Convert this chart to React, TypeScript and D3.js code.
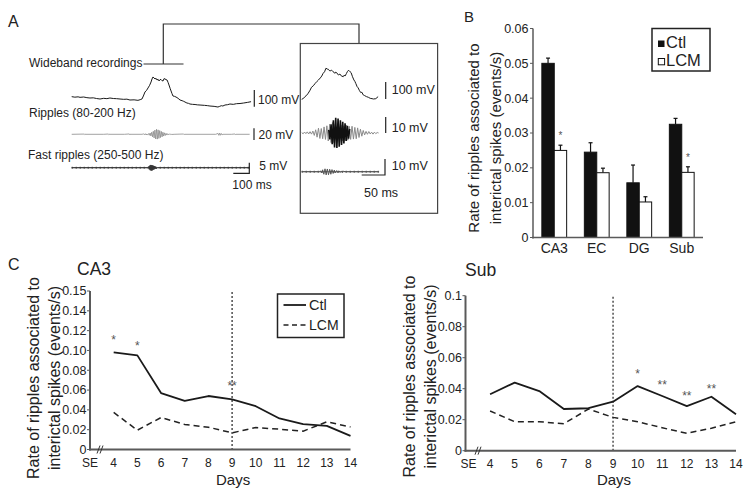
import React from "react";
import * as d3 from "d3";

const FONT = "'Liberation Sans', Arial, Helvetica, sans-serif";

// ---------- Panel B data ----------
const regions = ["CA3", "EC", "DG", "Sub"];
const barGroups = ["Ctl", "LCM"];
const ctlRate = [0.05, 0.0245, 0.0157, 0.0325];
const lcmRate = [0.025, 0.0186, 0.0102, 0.0187];
const ctlSem = [0.0015, 0.0027, 0.0051, 0.0017];
const lcmSem = [0.0015, 0.0013, 0.0015, 0.0016];
const barTicks = [0, 0.01, 0.02, 0.03, 0.04, 0.05, 0.06];
const barTickLabels = ["0", "0.01", "0.02", "0.03", "0.04", "0.05", "0.06"];
const barStars = [
  { region: "CA3", group: "LCM", value: 0.0299, label: "*" },
  { region: "Sub", group: "LCM", value: 0.0237, label: "*" },
];

// ---------- Panel C data ----------
const days = [4, 5, 6, 7, 8, 9, 10, 11, 12, 13, 14];
const dayTickPos = [3, 4, 5, 6, 7, 8, 9, 10, 11, 12, 13, 14];
const dayTickLabels = ["SE", "4", "5", "6", "7", "8", "9", "10", "11", "12", "13", "14"];
const ca3Ctl = [0.098, 0.095, 0.057, 0.049, 0.054, 0.0505, 0.0437, 0.0313, 0.0256, 0.0238, 0.0137];
const ca3Lcm = [0.0374, 0.0195, 0.0323, 0.0253, 0.0225, 0.0168, 0.0222, 0.0205, 0.0185, 0.0279, 0.0228];
const subCtl = [0.0364, 0.0439, 0.0385, 0.0269, 0.0274, 0.0316, 0.0417, 0.0353, 0.0288, 0.0348, 0.0235];
const subLcm = [0.0256, 0.0187, 0.0187, 0.0174, 0.0269, 0.0215, 0.0187, 0.0148, 0.0112, 0.0145, 0.0187];
const ca3Ticks = [0, 0.02, 0.04, 0.06, 0.08, 0.1, 0.12, 0.14, 0.16];
const ca3TickLabels = ["0", "0.02", "0.04", "0.06", "0.08", "0.10", "0.12", "0.14", "0.15"];
const subTicks = [0, 0.02, 0.04, 0.06, 0.08, 0.1];
const subTickLabels = ["0", "0.02", "0.04", "0.06", "0.08", "0.1"];
const ca3Stars = [
  { day: 4, value: 0.1136, label: "*" },
  { day: 5, value: 0.1075, label: "*" },
  { day: 9, value: 0.0671, label: "**" },
];
const subStars = [
  { day: 10, value: 0.0514, label: "*" },
  { day: 11, value: 0.0445, label: "**" },
  { day: 12, value: 0.037, label: "**" },
  { day: 13, value: 0.0417, label: "**" },
];
const markerDay = 9;

// ---------- Panel A data (ms, mV) ----------
const wideLong: [number, number][] = [
  [0, 2], [20, -1], [40, 1], [52, -2], [75, 0], [95, -4], [114, -6], [135, -5], [155, -9], [177, -12],
  [200, -8], [220, -10], [239, -6], [260, -9], [280, -10], [302, -12], [325, -14], [345, -13], [364, -18],
  [390, -17], [414, -20], [428, -16], [439, -12], [448, 6], [458, 30], [468, 40], [477, 54], [487, 70],
  [496, 90], [502, 108], [508, 120], [514, 114], [521, 108], [527, 112], [533, 102], [540, 106], [546, 96],
  [552, 104], [558, 105], [564, 98], [571, 96], [577, 110], [583, 108], [590, 104], [596, 102], [602, 88],
  [608, 72], [615, 52], [621, 36], [627, 20], [633, 6], [642, 4], [652, 0], [665, -8], [677, -18],
  [690, -22], [700, -26], [708, -30], [720, -36], [730, -38], [739, -42], [755, -44], [771, -45],
  [785, -47], [802, -48], [830, -50], [850, -52], [864, -54], [890, -56], [914, -60], [925, -56],
  [935, -52], [945, -54], [958, -48], [975, -46], [989, -42], [1010, -44], [1030, -40], [1052, -39],
  [1075, -36], [1100, -32], [1121, -28],
];
const rippleLongBase: [number, number][] = [
  [0, 0], [80, 0.4], [82, -0.4], [84, 0], [200, 0], [230, 0.5], [232, -0.5], [234, 0], [330, 0],
  [360, 0.6], [362, -0.6], [364, 0], [440, 0], [450, 0.8], [455, -0.8], [460, 1], [465, -1.2],
  [640, 0], [700, 0.5], [703, -0.5], [706, 0], [900, 0], [915, 1.5], [920, -1.8], [925, 2],
  [930, -1.6], [935, 1.4], [940, -1], [945, 0], [1000, 0], [1020, 0.6], [1023, -0.6], [1026, 0], [1112, 0],
];
const rippleLongBurst = [
  0.5, -0.8, 1.2, -1.6, 2.2, -2.8, 3.5, -4.3, 5.2, -6.2, 7.2, -8, 8.5, -8.2, 7.6, -7, 6.4, -5.6, 5,
  -4.3, 3.6, -3, 2.5, -2, 1.6, -1.3, 1, -0.8, 0.6, -0.5, 0.4, -0.3,
];
const fastLongBurst = [0.6, -0.8, 1, -1.2, 1.3, -1.4, 1.2, -1.3, 1.1, -1, 0.9, -0.8, 0.7, -0.6, 0.5, -0.4];
const wideBox: [number, number][] = [
  [0, -2], [4, 4], [7, 14], [10, 20], [14, 34], [18, 52], [21, 69], [25, 78], [29, 92], [33, 104],
  [36, 112], [40, 124], [43, 135], [46, 151], [49, 160], [52, 181], [55, 176], [57, 175], [59, 168],
  [61, 165], [64, 170], [67, 161], [69, 158], [71, 151], [73, 158], [75, 155], [77, 147], [79, 141],
  [82, 147], [84, 138], [86, 135], [89, 131], [91, 140], [93, 135], [96, 150], [98, 161], [100, 168],
  [102, 166], [104, 160], [106, 155], [109, 131], [112, 112], [114, 104], [116, 92], [119, 72],
  [121, 66], [124, 49], [127, 37], [129, 40], [132, 24], [135, 20], [139, 14], [143, 10], [147, 4],
  [151, 2], [154, 0], [159, 2], [164, 14],
];
const rippleBoxGray = [
  0.3, -0.5, 0.6, -0.4, 0.7, -0.6, 0.8, -0.7, 1.2,
  -1.5, 2, -2.6, 3, -3.4, 2.8, -3.6, 3.8, -4, 4.5,
  -5, 5.5, -6, 6.5, -6, 5.5, -6, 6, -5.5, 5, -5, 4.5, -4.8, 5, -4.5, 4.2,
  -4, 4.2, -3.8, 3.5, -3.6, 3.2, -2.8, 2.4, -2, 1.6, -1.2,
  1, -0.8, 0.9, -0.6, 0.5, -0.7, 0.5, -0.4, 0.3, 0,
];
const rippleBoxBlack = [2, -4, 5.5, -7, 8, -9, 9.5, -9.4, 9, -8.5, 8, -7.5, 7, -6.5, 6, -5, 4.5, -3.5, 2.5];
const fastBoxBurst = [
  0.5, -0.8, 1.2, -1.6, 1.8, -2, 1.7, -1.9, 1.5, -1.6, 1.3, -1.1, 1, -0.8, 0.7, -0.6, 0.5, -0.5, 0.4, -0.4, 0.3,
];

type Star = { day: number; value: number; label: string };

function LinePanel(props: {
  x0: number; x1: number; yBottom: number; yTop: number; yMax: number;
  ticks: number[]; tickLabels: string[]; ctl: number[]; lcm: number[]; stars: Star[];
  title: string; titleX: number; titleY: number; labelX1: number; labelX2: number; labelY: number;
  seOffset: number; breakX: number; daysY: number; tickLabelY: number; legend?: boolean;
}) {
  const p = props;
  const x = d3.scaleLinear().domain([3, 14]).range([p.x0, p.x1]);
  const y = d3.scaleLinear().domain([0, p.yMax]).range([p.yBottom, p.yTop]);
  const line = d3.line<number>().x((_, i) => x(days[i])).y((d) => y(d));
  const axisCol = "#5a5a5a";
  return (
    <g fontFamily={FONT}>
      <text x={p.titleX} y={p.titleY} fontSize={17.5} fill="#222">{p.title}</text>
      {/* y label */}
      <g transform={`translate(${p.labelX1},${p.labelY}) rotate(-90)`}>
        <text textAnchor="middle" fontSize={16} fill="#222">Rate of ripples associated to</text>
      </g>
      <g transform={`translate(${p.labelX2},${p.labelY}) rotate(-90)`}>
        <text textAnchor="middle" fontSize={16} fill="#222">interictal spikes (events/s)</text>
      </g>
      {/* y ticks */}
      {p.ticks.map((t, i) => (
        <g key={"yt" + i}>
          <line x1={p.x0 - 3} x2={p.x0} y1={y(t)} y2={y(t)} stroke={axisCol} strokeWidth={1} />
          <text x={p.x0 - 3.5} y={y(t)} dy="0.35em" textAnchor="end" fontSize={12.5} fill="#222">{p.tickLabels[i]}</text>
        </g>
      ))}
      {/* x tick labels */}
      {dayTickPos.map((d, i) => (
        <text key={"xt" + i} x={x(d) + (i === 0 ? p.seOffset : 0)} y={p.tickLabelY} textAnchor="middle" fontSize={12} fill="#222">
          {dayTickLabels[i]}
        </text>
      ))}
      <text x={(x(4) + x(14)) / 2 + 1} y={p.daysY} textAnchor="middle" fontSize={15} fill="#222">Days</text>
      {/* vertical marker */}
      <line x1={x(markerDay)} x2={x(markerDay)} y1={p.yTop + 1} y2={p.yBottom} stroke="#222" strokeWidth={1.2} strokeDasharray="2,2" />
      {/* series */}
      <path d={line(p.lcm) || ""} fill="none" stroke="#222" strokeWidth={1.5} strokeDasharray="6,4" />
      <path d={line(p.ctl) || ""} fill="none" stroke="#1a1a1a" strokeWidth={1.8} strokeLinejoin="round" />
      {p.stars.map((s, i) => (
        <text key={"st" + i} x={x(s.day)} y={y(s.value) + 7} textAnchor="middle" fontSize={12} fill="#555">{s.label}</text>
      ))}
      {/* axes */}
      <line x1={p.x0} x2={p.x0} y1={p.yTop} y2={p.yBottom + 1} stroke={axisCol} strokeWidth={2} />
      <line x1={p.x0 - 1} x2={p.x1} y1={p.yBottom} y2={p.yBottom} stroke={axisCol} strokeWidth={2} />
      {/* axis break */}
      <line x1={p.breakX - 3} x2={p.breakX} y1={p.yBottom + 4} y2={p.yBottom - 4} stroke="#333" strokeWidth={1} />
      <line x1={p.breakX} x2={p.breakX + 3} y1={p.yBottom + 4} y2={p.yBottom - 4} stroke="#333" strokeWidth={1} />
      {p.legend && (
        <g>
          <rect x={277.5} y={294} width={66.5} height={43.5} fill="#fff" stroke="#222" strokeWidth={1.5} />
          <line x1={283.5} x2={306} y1={305} y2={305} stroke="#1a1a1a" strokeWidth={1.8} />
          <text x={309} y={310} fontSize={14.5} fill="#222">Ctl</text>
          <line x1={283.5} x2={306} y1={325} y2={325} stroke="#222" strokeWidth={1.5} strokeDasharray="5,3.5" />
          <text x={309} y={330} fontSize={14} fill="#222">LCM</text>
        </g>
      )}
    </g>
  );
}

export default function App() {
  // ---------- Panel A scales ----------
  const xLong = d3.scaleLinear().domain([0, 1125]).range([71.7, 251.7]);
  const yWideLong = d3.scaleLinear().domain([0, 100]).range([97, 80.3]);
  const yRipLong = d3.scaleLinear().domain([0, 20]).range([134.3, 122.6]);
  const yFastLong = d3.scaleLinear().domain([0, 5]).range([167.7, 157.1]);
  const xBox = d3.scaleLinear().domain([0, 166.5]).range([301.7, 379.3]);
  const yWideBox = d3.scaleLinear().domain([0, 100]).range([99, 82]);
  const yRipBox = d3.scaleLinear().domain([0, 10]).range([133, 117]);
  const yFastBox = d3.scaleLinear().domain([0, 10]).range([171.7, 155.7]);

  const lineOf = (xs: d3.ScaleLinear<number, number>, ys: d3.ScaleLinear<number, number>) =>
    d3.line<[number, number]>().x((d) => xs(d[0])).y((d) => ys(d[1]));

  const rippleLong: [number, number][] = rippleLongBase
    .concat(rippleLongBurst.map((v, i) => [470 + i * 5, v] as [number, number]))
    .sort((a, b) => a[0] - b[0]);
  const fastLong: [number, number][] = [[0, 0] as [number, number], [480, 0] as [number, number]]
    .concat(fastLongBurst.map((v, i) => [482 + i * 3, v] as [number, number]))
    .concat([[535, 0], [1112, 0]] as [number, number][]);
  const rippleBoxG: [number, number][] = rippleBoxGray.map((v, i) => [i * 3, v]);
  const rippleBoxB: [number, number][] = rippleBoxBlack.map((v, i) => [58 + i * 2.5, v]);
  const fastBox: [number, number][] = [[0, 0] as [number, number], [38, 0] as [number, number]]
    .concat(fastBoxBurst.map((v, i) => [40 + i * 2.5, v] as [number, number]))
    .concat([[93, 0], [166, 0]] as [number, number][]);

  // ---------- Panel B scales ----------
  const yB = d3.scaleLinear().domain([0, 0.06]).range([237.5, 28.5]);
  const xB = d3.scaleBand().domain(regions).range([533, 703]).paddingInner(0).paddingOuter(0);
  const xG = d3.scaleBand().domain(barGroups).range([0, 24.8]);
  const center = (r: string) => (xB(r) || 0) + xB.bandwidth() / 2;
  const barX = (r: string, g: string) => center(r) - 12.4 + (xG(g) || 0);
  const barSeries = [
    { g: "Ctl", vals: ctlRate, sem: ctlSem, fill: "#111" },
    { g: "LCM", vals: lcmRate, sem: lcmSem, fill: "#fff" },
  ];
  const axisB = "#5a5a5a";

  return (
    <svg width={751} height={497} style={{ position: "absolute", left: 0, top: 0 }} fontFamily={FONT}>
      <rect width={751} height={497} fill="#fff" />

      {/* ================= Panel A ================= */}
      <text x={8} y={27} fontSize={16} fill="#222">A</text>
      <path d="M163.3,64 V24 H359 V43.5" fill="none" stroke="#333" strokeWidth={1.2} />
      <line x1={143.5} x2={183.5} y1={64} y2={64} stroke="#333" strokeWidth={1.2} />
      <text x={29} y={66.5} fontSize={12} fill="#222">Wideband recordings</text>
      <text x={29} y={117} fontSize={12} fill="#222">Ripples (80-200 Hz)</text>
      <text x={28} y={158.5} fontSize={12} fill="#222">Fast ripples (250-500 Hz)</text>

      <path d={lineOf(xLong, yWideLong)(wideLong) || ""} fill="none" stroke="#1a1a1a" strokeWidth={1} strokeLinejoin="round" />
      <path d={lineOf(xLong, yRipLong)(rippleLong) || ""} fill="none" stroke="#8a8a8a" strokeWidth={0.8} />
      <path d={lineOf(xLong, yFastLong)([[0, 0], [1112, 0]]) || ""} fill="none" stroke="#777" strokeWidth={1} />
      <path d={lineOf(xLong, yFastLong)([[0, 0], [1112, 0]]) || ""} fill="none" stroke="#444" strokeWidth={2} strokeDasharray="1,3" />
      <path d={lineOf(xLong, yFastLong)(fastLong) || ""} fill="none" stroke="#333" strokeWidth={1} />

      {/* long scale bars */}
      <line x1={254.3} x2={254.3} y1={90} y2={90 + (yWideLong(0) - yWideLong(100))} stroke="#222" strokeWidth={1.2} />
      <text x={258} y={103.5} fontSize={12} fill="#222">100 mV</text>
      <line x1={254} x2={254} y1={128.3} y2={128.3 + (yRipLong(0) - yRipLong(20))} stroke="#222" strokeWidth={1.2} />
      <text x={258.5} y={138.5} fontSize={12} fill="#222">20 mV</text>
      <path d={`M${249.3 - (xLong(100) - xLong(0))},173.3 H249.3 V${173.3 - (yFastLong(0) - yFastLong(5))}`} fill="none" stroke="#222" strokeWidth={1.2} />
      <text x={259.3} y={169.5} fontSize={12} fill="#222">5 mV</text>
      <text x={232.3} y={188.5} fontSize={12} fill="#222">100 ms</text>

      {/* inset box */}
      <rect x={300.3} y={43.5} width={137.3} height={169.8} fill="none" stroke="#444" strokeWidth={1.2} />
      <path d={lineOf(xBox, yWideBox)(wideBox) || ""} fill="none" stroke="#1a1a1a" strokeWidth={1} strokeLinejoin="round" />
      <path d={lineOf(xBox, yRipBox)(rippleBoxG) || ""} fill="none" stroke="#8a8a8a" strokeWidth={1} />
      <path d={lineOf(xBox, yRipBox)(rippleBoxB) || ""} fill="none" stroke="#111" strokeWidth={1.6} />
      <path d={lineOf(xBox, yFastBox)([[0, 0], [166, 0]]) || ""} fill="none" stroke="#777" strokeWidth={1} />
      <path d={lineOf(xBox, yFastBox)([[0, 0], [166, 0]]) || ""} fill="none" stroke="#444" strokeWidth={2} strokeDasharray="1,3" />
      <path d={lineOf(xBox, yFastBox)(fastBox) || ""} fill="none" stroke="#555" strokeWidth={1} />

      <line x1={385.7} x2={385.7} y1={82} y2={82 + (yWideBox(0) - yWideBox(100))} stroke="#222" strokeWidth={1.2} />
      <text x={391.7} y={93.5} fontSize={12.5} fill="#222">100 mV</text>
      <line x1={385.7} x2={385.7} y1={117} y2={117 + (yRipBox(0) - yRipBox(10))} stroke="#222" strokeWidth={1.2} />
      <text x={391.7} y={131.7} fontSize={12.5} fill="#222">10 mV</text>
      <path d={`M${385 - (xBox(50) - xBox(0))},175 H385 V${175 - (yFastBox(0) - yFastBox(10))}`} fill="none" stroke="#222" strokeWidth={1.2} />
      <text x={391.7} y={170} fontSize={12.5} fill="#222">10 mV</text>
      <text x={364} y={196.7} fontSize={12.5} fill="#222">50 ms</text>

      {/* ================= Panel B ================= */}
      <text x={464} y={22} fontSize={15} fill="#222">B</text>
      <g transform={`translate(479,138) rotate(-90)`}>
        <text textAnchor="middle" fontSize={15} fill="#222">Rate of ripples associated to</text>
      </g>
      <g transform={`translate(501,138) rotate(-90)`}>
        <text textAnchor="middle" fontSize={15} fill="#222">interictal spikes (events/s)</text>
      </g>
      {barTicks.map((t, i) => (
        <g key={"bt" + i}>
          <line x1={530} x2={533} y1={yB(t)} y2={yB(t)} stroke={axisB} strokeWidth={1} />
          <text x={528.5} y={yB(t)} dy="0.35em" textAnchor="end" fontSize={12.5} fill="#222">{barTickLabels[i]}</text>
        </g>
      ))}
      {barSeries.map((s) =>
        regions.map((r, i) => {
          const bx = barX(r, s.g);
          const bw = xG.bandwidth();
          const cx = bx + bw / 2;
          return (
            <g key={s.g + r}>
              <line x1={cx} x2={cx} y1={yB(s.vals[i])} y2={yB(s.vals[i] + s.sem[i])} stroke="#111" strokeWidth={1.2} />
              <line x1={cx - 2} x2={cx + 2} y1={yB(s.vals[i] + s.sem[i])} y2={yB(s.vals[i] + s.sem[i])} stroke="#111" strokeWidth={1.2} />
              <rect x={bx} y={yB(s.vals[i])} width={bw} height={yB(0) - yB(s.vals[i])} fill={s.fill} stroke="#111" strokeWidth={1} />
            </g>
          );
        })
      )}
      {barStars.map((s, i) => (
        <text key={"bs" + i} x={barX(s.region, s.group) + xG.bandwidth() / 2} y={yB(s.value) + 6} textAnchor="middle" fontSize={10} fill="#555">
          {s.label}
        </text>
      ))}
      <line x1={533} x2={533} y1={yB(0.06)} y2={yB(0) + 1} stroke={axisB} strokeWidth={1.5} />
      <line x1={532} x2={703} y1={yB(0)} y2={yB(0)} stroke={axisB} strokeWidth={1.5} />
      {regions.map((r) => (
        <text key={"bl" + r} x={center(r)} y={253.3} textAnchor="middle" fontSize={14} fill="#222">{r}</text>
      ))}
      {/* legend B */}
      <rect x={652} y={28.5} width={58} height={42.5} fill="#fff" stroke="#222" strokeWidth={1.5} />
      <rect x={658} y={40.5} width={6.5} height={6.5} fill="#111" />
      <text x={666} y={48} fontSize={16.5} fill="#222">Ctl</text>
      <rect x={658.3} y={58.5} width={6.3} height={6.3} fill="#fff" stroke="#111" strokeWidth={1} />
      <text x={666} y={66} fontSize={16.5} fill="#222">LCM</text>

      {/* ================= Panel C ================= */}
      <text x={8} y={270} fontSize={16} fill="#222">C</text>
      <LinePanel
        x0={90} x1={350.5} yBottom={449.5} yTop={291} yMax={0.16}
        ticks={ca3Ticks} tickLabels={ca3TickLabels} ctl={ca3Ctl} lcm={ca3Lcm} stars={ca3Stars}
        title="CA3" titleX={77} titleY={275} labelX1={38.5} labelX2={59.5} labelY={378}
        seOffset={0} breakX={100} daysY={485} tickLabelY={466.5} legend
      />
      <LinePanel
        x0={465.5} x1={736} yBottom={450.7} yTop={295.7} yMax={0.1}
        ticks={subTicks} tickLabels={subTickLabels} ctl={subCtl} lcm={subLcm} stars={subStars}
        title="Sub" titleX={465} titleY={276} labelX1={415} labelX2={435.5} labelY={376.5}
        seOffset={3} breakX={478} daysY={485} tickLabelY={468}
      />
    </svg>
  );
}
